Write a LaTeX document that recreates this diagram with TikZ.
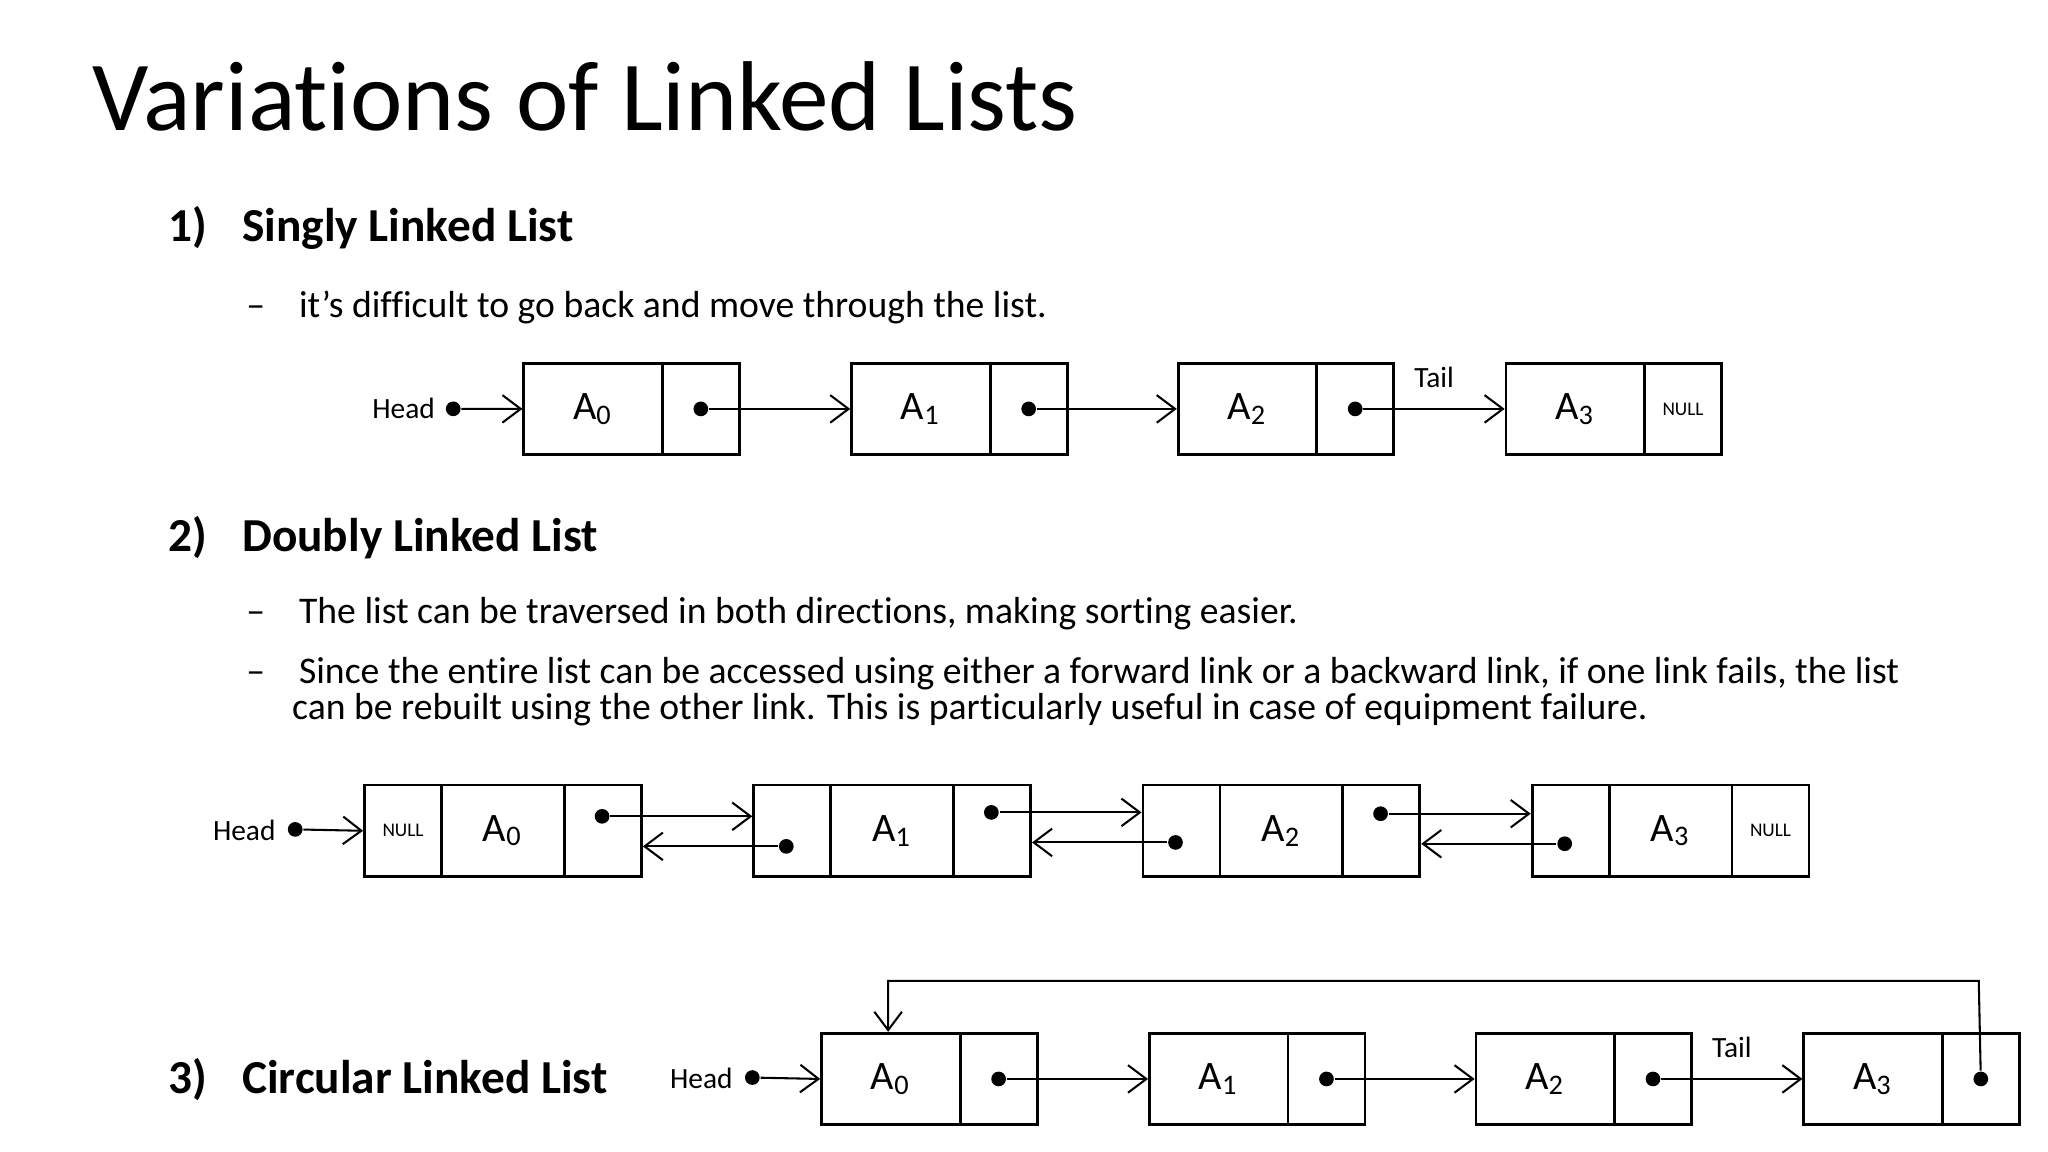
\documentclass[tikz,border=0pt]{standalone}
\usepackage{fontspec}
\setmainfont{Carlito}[Ligatures=NoCommon]
\usetikzlibrary{arrows.meta}
\newcommand{\sbx}[1]{\textsubscript{#1}}
\begin{document}
\begin{tikzpicture}[x=0.01cm,y=-0.01cm,
  cell/.style={draw,line width=0.6pt,minimum height=0.7cm,inner sep=0pt,anchor=north west,font=\fontsize{8.8}{10}\selectfont},
  nullt/.style={font=\fontsize{4.2}{5}\selectfont},
  lbl/.style={font=\fontsize{6.4}{8}\selectfont},
  arr/.style={line width=0.45pt,-{Straight Barb[length=4pt,width=6pt]}},
  dotc/.style={circle,fill,inner sep=0pt,minimum size=3.2pt},
  hd/.style={anchor=base west,inner sep=0pt,font=\bfseries\fontsize{10.3}{12}\selectfont},
  bt/.style={anchor=base west,inner sep=0pt,font=\fontsize{8.2}{10}\selectfont}]
\useasboundingbox (0,0) rectangle (1568,882);
\node[anchor=base west,font=\fontsize{21.6}{26}\selectfont,inner sep=0pt] (title) at (70,100) {Variations of Linked Lists};
% Singly
\node[hd] (h1) at (128,185) {1)\hspace{0.75em}Singly Linked List};
\node[bt] (b1) at (188,243) {–\hspace{0.9em}it’s difficult to go back and move through the list.};
\foreach \i/\x in {0/400,1/651,2/901,3/1152}{
  \node[cell,minimum width=1.06cm] (sd\i) at (\x,277) {A\sbx{\i}};
  \node[cell,minimum width=0.59cm] (sp\i) at (\x+106,277) {};
}
\node[nullt] at (sp3) {NULL};
\foreach \i in {0,1,2}{\node[dotc] (sdot\i) at (sp\i) {};}
\draw[arr] (sdot0) -- (sd1.west);
\draw[arr] (sdot1) -- (sd2.west);
\draw[arr] (sdot2) -- (sd3.west) node[midway,above=1pt,lbl] {Tail};
\node[lbl] (shead) at (309,313) {Head};
\node[dotc] (shd) at (347,313) {};
\draw[arr] (shd) -- (sd0.west);
% Doubly
\node[hd] (h2) at (128,422) {2)\hspace{0.75em}Doubly Linked List};
\node[bt] (b2) at (188,477) {–\hspace{0.9em}The list can be traversed in both directions, making sorting easier.};
\node[bt] (b3) at (188,523) {–\hspace{0.9em}Since the entire list can be accessed using either a forward link or a backward link, if one link fails, the list};
\node[bt] (b4) at (223,551) {can be rebuilt using the other link. This is particularly useful in case of equipment failure.};
\foreach \i/\x in {0/278,1/576,2/874,3/1172}{
  \node[cell,minimum width=0.59cm] (dl\i) at (\x,600) {};
  \node[cell,minimum width=0.94cm] (dd\i) at (\x+59,600) {A\sbx{\i}};
  \node[cell,minimum width=0.59cm] (dr\i) at (\x+153,600) {};
}
\node[nullt] at (dl0) {NULL};
\node[nullt] at (dr3) {NULL};
\node[dotc] (f0) at (461,625) {}; \node[dotc] (g1) at (602,648) {};
\node[dotc] (f1) at (759,622) {}; \node[dotc] (g2) at (900,645) {};
\node[dotc] (f2) at (1057,623) {}; \node[dotc] (g3) at (1198,646) {};
\draw[arr] (f0) -- (f0 -| dl1.west);
\draw[arr] (g1) -- (g1 -| dr0.east);
\draw[arr] (f1) -- (f1 -| dl2.west);
\draw[arr] (g2) -- (g2 -| dr1.east);
\draw[arr] (f2) -- (f2 -| dl3.west);
\draw[arr] (g3) -- (g3 -| dr2.east);
\node[lbl] (dhead) at (187,636) {Head};
\node[dotc] (dhd) at (226,635) {};
\draw[arr] (dhd) -- (dl0.west);
% Circular
\node[hd] (h3) at (128,837) {3)\hspace{0.75em}Circular Linked List};
\foreach \i/\x in {0/628,1/879,2/1129,3/1380}{
  \node[cell,minimum width=1.06cm] (cd\i) at (\x,790) {A\sbx{\i}};
  \node[cell,minimum width=0.59cm] (cp\i) at (\x+106,790) {};
}
\foreach \i in {0,1,2,3}{\node[dotc] (cdot\i) at (cp\i) {};}
\draw[arr] (cdot0) -- (cd1.west);
\draw[arr] (cdot1) -- (cd2.west);
\draw[arr] (cdot2) -- (cd3.west) node[midway,above=1pt,lbl] {Tail};
\node[lbl] (chead) at (537,826) {Head};
\node[dotc] (chd) at (576,825) {};
\draw[arr] (chd) -- (cd0.west);
\coordinate (r1) at (1515,751);
\coordinate (r2) at (680,751);
\draw[arr] (cdot3) -- (r1) -- (r2) -- (r2 |- cd0.north);
\end{tikzpicture}
\end{document}
